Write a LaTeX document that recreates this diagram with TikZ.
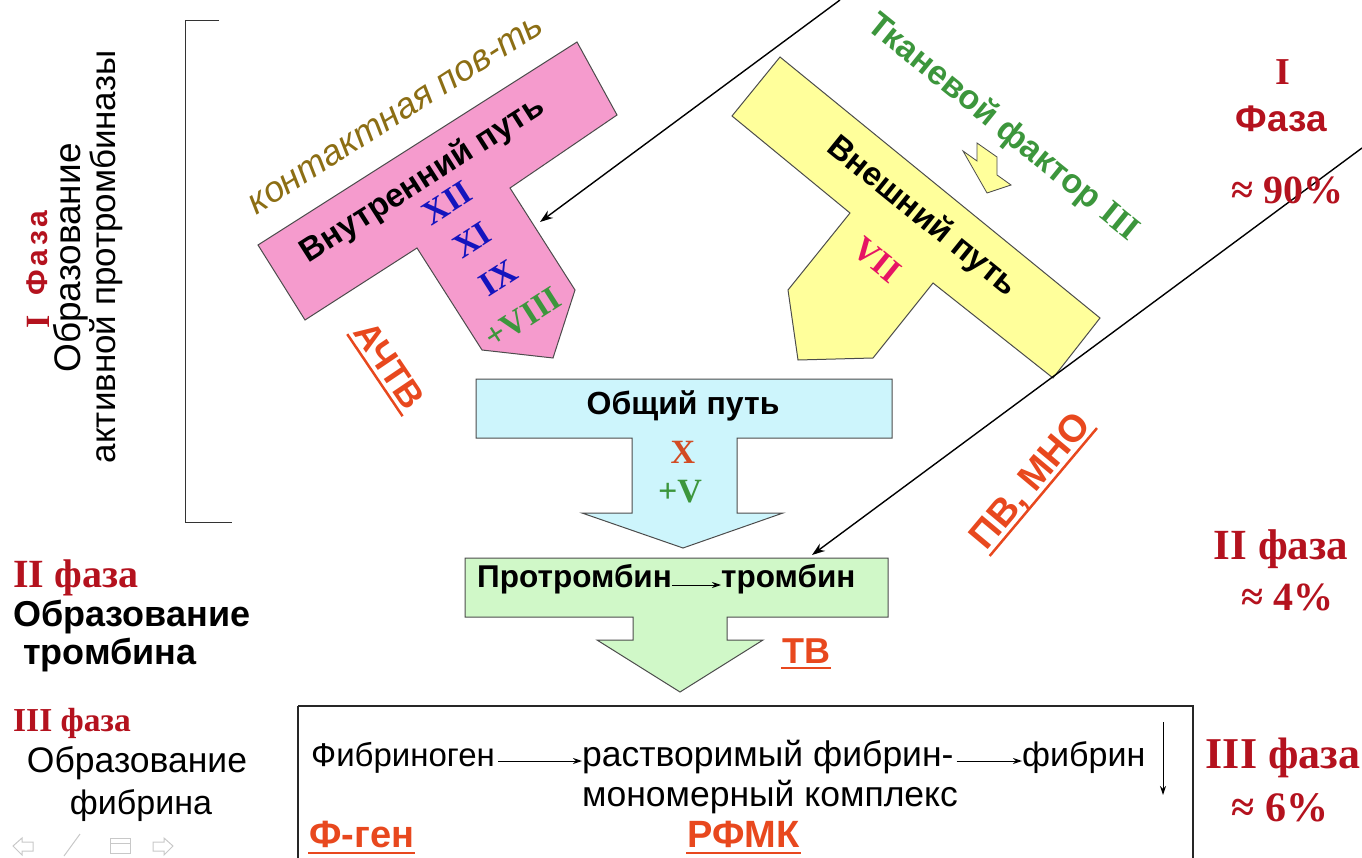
\documentclass[tikz,border=0pt]{standalone}
\usepackage{fontspec}
\setmainfont{Liberation Sans}
\newfontfamily\serifb{Liberation Serif}
\usetikzlibrary{arrows.meta}

\definecolor{pinkfill}{RGB}{245,155,205}
\definecolor{yellowfill}{RGB}{255,255,155}
\definecolor{cyanfill}{RGB}{205,245,252}
\definecolor{greenfill}{RGB}{208,248,200}
\definecolor{darkred}{RGB}{180,18,30}
\definecolor{labelred}{RGB}{232,72,30}
\definecolor{contactcol}{RGB}{140,110,20}
\definecolor{tfgreen}{RGB}{60,150,60}
\definecolor{numblue}{RGB}{20,20,190}
\definecolor{crimsonvii}{RGB}{230,20,100}
\definecolor{xorange}{RGB}{210,75,35}
\definecolor{navgrey}{RGB}{200,200,200}

\newcommand\fsz[1]{\fontsize{#1}{#1}\selectfont}

\tikzset{
  blockshape/.style={draw=black!70, line width=1pt},
  txt/.style={inner sep=0pt},
  numeral/.style={inner sep=0pt, font=\serifb\bfseries\fsz{34}},
  phase/.style={inner sep=0pt, text=darkred, font=\serifb\bfseries\fsz{#1}},
  phase/.default=38,
  ulab/.style={text=labelred, inner xsep=1pt, inner ysep=5pt, text depth=0pt},
  ulline/.style={draw=labelred, line width=2.5pt},
  pointer/.style={line width=1.4pt, -{Stealth[length=13pt,width=9pt]}},
  flow/.style={line width=1pt, -{Stealth[length=9pt,width=6pt]}},
  navicon/.style={draw=navgrey, line width=1pt}
}

\begin{document}
\begin{tikzpicture}[x=1pt,y=-1pt]
\useasboundingbox (0,0) rectangle (1362,858);
\clip (0,0) rectangle (1362,858);

% intrinsic pathway (pink T-arrow)
\draw[blockshape, fill=pinkfill] (258,245) -- (577,42) -- (617,115) -- (510,188) -- (575,290)
  -- (553,358) -- (482,350) -- (417,248) -- (305,320) -- cycle;
% extrinsic pathway (yellow T-arrow)
\draw[blockshape, fill=yellowfill] (780,57) -- (1100,318) -- (1053,378) -- (933,283) -- (873,358)
  -- (798,360) -- (788,290) -- (850,213) -- (732,116) -- cycle;
% tissue factor arrow
\draw[blockshape, fill=yellowfill, line width=0.8pt] (977,143) -- (997,157) -- (997,175)
  -- (1011,185) -- (987,193) -- (963,151) -- (977,161) -- cycle;
% common pathway (cyan)
\draw[blockshape, fill=cyanfill] (476,379) -- (892,379) -- (892,438) -- (737,438) -- (737,513)
  -- (783,513) -- (683,548) -- (582,513) -- (632,513) -- (632,438) -- (476,438) -- cycle;
% thrombin formation (green)
\draw[blockshape, fill=greenfill] (465,558) -- (888,558) -- (888,617) -- (727,617) -- (727,640)
  -- (763,640) -- (680,692) -- (597,640) -- (633,640) -- (633,617) -- (465,617) -- cycle;
% fibrin formation box
\draw[line width=1.2pt, black!85] (298,706) -- (1193,706) -- (1193,880) (298,706) -- (298,880);
% bracket of phase I
\draw[line width=1pt, black!80] (219,21) -- (185,21) -- (185,522) -- (232,522);

% phase I caption, vertical
\node[txt, rotate=90, text=darkred, font=\serifb\bfseries\fsz{34}] (ph1n) at (38,322) {I};
\node[txt, rotate=90, text=darkred, font=\bfseries\fsz{30}\addfontfeature{LetterSpace=12}] (ph1l) at (37,253) {Фаза};
\node[txt, rotate=90, font=\fsz{37}] (ph1a) at (71,258) {Образование};
\node[txt, rotate=90, font=\fsz{35}] (ph1b) at (106,257) {активной протромбиназы};

% intrinsic pathway labels
\node[txt, rotate=32.5, font=\itshape\fsz{36}, text=contactcol] (contact) at (396,115) {контактная пов-ть};
\node[txt, rotate=32.5, font=\bfseries\fsz{33}] (intr) at (423,180) {Внутренний путь};
\node[numeral, rotate=32.5, text=numblue] (f12) at (447,203) {XII};
\node[numeral, rotate=32.5, text=numblue] (f11) at (472,240) {XI};
\node[numeral, rotate=32.5, text=numblue] (f9) at (498,278) {IX};
\node[numeral, rotate=32.5, text=tfgreen] (f8) at (523,318) {+VIII};

% extrinsic pathway labels
\node[txt, rotate=-39, font=\bfseries\fsz{34}, text=tfgreen] (tf) at (1003,128)
  {Тканевой фактор {\serifb III}};
\node[txt, rotate=-39, font=\bfseries\fsz{33}] (extr) at (922,217) {Внешний путь};
\node[numeral, rotate=-39, text=crimsonvii] (f7) at (877,260) {VII};

% common pathway labels
\node[txt, font=\bfseries\fsz{32}] (common) at (683,406) {Общий путь};
\node[numeral, text=xorange] (f10) at (683,452) {X};
\node[numeral, text=tfgreen] (f5) at (680,492) {+V};

% prothrombin -> thrombin
\node[txt, anchor=mid east, font=\bfseries\fsz{31.5}] (prot) at (672,585) {Протромбин};
\node[txt, anchor=mid west, font=\bfseries\fsz{31.5}] (thr) at (721,585) {тромбин};
\draw[flow] (prot.mid east) -- (thr.mid west);

% fibrin formation
\node[txt, anchor=base west, font=\fsz{33}] (fgen) at (311,766) {Фибриноген};
\node[txt, anchor=base west, font=\fsz{35.5}] (sfmc) at (582,766) {растворимый фибрин-};
\node[txt, anchor=base, font=\fsz{35.5}] (sfmc2) at (770,806) {мономерный комплекс};
\node[txt, anchor=base west, font=\fsz{34}] (fibr) at (1022,766) {фибрин};
\draw[flow] ([yshift=5pt]fgen.base east) ++(3,0) -- ([yshift=5pt]sfmc.base west);
\draw[flow] ([yshift=5pt]sfmc.base east) ++(3,0) -- ([yshift=5pt]fibr.base west);
\coordinate (downtop) at (1163,722);
\coordinate (downend) at (1163,795);
\draw[flow] (downtop) -- (downend);

% laboratory tests, underlined
\node[ulab, rotate=-56, font=\bfseries\fsz{36}, text height=26pt] (aptt) at (390,365) {АЧТВ};
\draw[ulline] (aptt.south west) -- (aptt.south east);
\node[ulab, rotate=50, font=\bfseries\fsz{38}, text height=27pt] (ptinr) at (1029,480) {ПВ, МНО};
\draw[ulline] (ptinr.south west) -- (ptinr.south east);
\node[ulab, font=\bfseries\fsz{36}, text height=26pt] (tt) at (806,650) {ТВ};
\draw[ulline] (tt.south west) -- (tt.south east);
\node[ulab, anchor=south west, font=\bfseries\fsz{38}, text height=27pt] (fg) at (308,853) {Ф-ген};
\draw[ulline] (fg.south west) -- (fg.south east);
\node[ulab, anchor=south west, font=\bfseries\fsz{38}, text height=27pt] (rfmk) at (686,853) {РФМК};
\draw[ulline] (rfmk.south west) -- (rfmk.south east);

% pointer lines
\coordinate (p1start) at (840,0);
\coordinate (p1end) at (540,222);
\draw[pointer] (p1start) -- (p1end);
\coordinate (p2start) at (1362,148);
\coordinate (p2end) at (812,555);
\draw[pointer] (p2start) -- (p2end);

% phase captions, right column
\node[phase] (r1) at (1283,72) {I};
\node[txt, text=darkred, font=\bfseries\fsz{37}] (r2) at (1281,119) {Фаза};
\node[phase=40] (r3) at (1287,190) {≈ 90\%};
\node[phase=43] (r4) at (1281,549) {II фаза};
\node[phase=40] (r5) at (1287,597) {≈ 4\%};
\node[phase=44] (r6) at (1283,758) {III фаза};
\node[phase=42] (r7) at (1280,808) {≈ 6\%};

% phase captions, left column
\node[phase=40, anchor=west] (l2) at (13,578) {II фаза};
\node[txt, anchor=west, font=\bfseries\fsz{36}] (l2a) at (13,617) {Образование};
\node[txt, anchor=west, font=\bfseries\fsz{36}] (l2b) at (23,655) {тромбина};
\node[phase=33.5, anchor=west] (l3) at (13,723) {III фаза};
\node[txt, font=\fsz{35.5}] (l3a) at (137,763) {Образование};
\node[txt, font=\fsz{34}] (l3b) at (141,806) {фибрина};

% slide navigation icons
\draw[navicon] (13,846) -- (22,838) -- (22,842) -- (33,842) -- (33,851) -- (22,851) -- (22,855) -- cycle;
\draw[navicon] (64,856) -- (80,834);
\draw[navicon] (110,838) rectangle (130,853);
\draw[navicon] (110,843) -- (130,843);
\draw[navicon] (173,846) -- (164,838) -- (164,842) -- (153,842) -- (153,851) -- (164,851) -- (164,855) -- cycle;
\end{tikzpicture}
\end{document}
